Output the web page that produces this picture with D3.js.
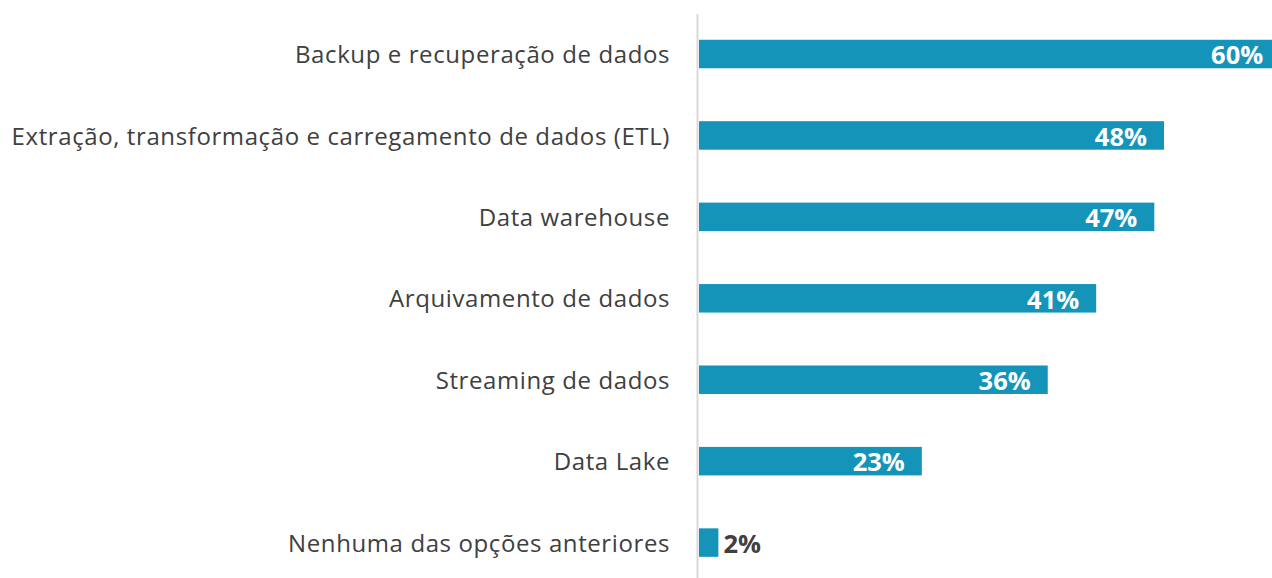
<!DOCTYPE html>
<html><head><meta charset="utf-8">
<script src="https://cdn.jsdelivr.net/npm/d3@7"></script>
<style>html,body{margin:0;padding:0;background:#fff;}svg{display:block;}</style>
</head><body>
<script>
const categories = ["Backup e recuperação de dados","Extração, transformação e carregamento de dados (ETL)","Data warehouse","Arquivamento de dados","Streaming de dados","Data Lake","Nenhuma das opções anteriores"];
const values = [60,48,47,41,36,23,2];
const valueLabels = ["60%","48%","47%","41%","36%","23%","2%"];

const W=1272,H=578;
const svg=d3.select("body").append("svg").attr("width",W).attr("height",H);
const x=d3.scaleLinear().domain([0,48]).range([699,1164]);
const y=d3.scaleBand().domain(categories).range([13.3,583.3]).paddingInner(0.65).paddingOuter(0.325);
const font="'Open Sans',sans-serif";

svg.selectAll("rect.bar").data(values).join("rect").attr("class","bar")
  .attr("x",x(0)).attr("y",(d,i)=>y(categories[i]))
  .attr("width",d=>x(d)-x(0)).attr("height",y.bandwidth()).attr("fill","#1594ba");

svg.append("line").attr("x1",697.5).attr("x2",697.5).attr("y1",14).attr("y2",578)
  .attr("stroke","#d9d9d9").attr("stroke-width",2);

svg.selectAll("text.cat").data(categories).join("text").attr("class","cat")
  .attr("x",670).attr("y",d=>y(d)+y.bandwidth()/2).attr("dy","0.38em")
  .attr("text-anchor","end").attr("font-family",font).attr("font-size",24)
  .attr("letter-spacing",0.6).attr("fill","#404040")
  .text(d=>d);

svg.selectAll("text.val").data(values).join("text").attr("class","val")
  .attr("x",d=>d<10? x(d)+5 : x(d)-17)
  .attr("y",(d,i)=>y(categories[i])+y.bandwidth()/2).attr("dy","0.4em")
  .attr("text-anchor",d=>d<10?"start":"end").attr("font-family",font).attr("font-weight","bold")
  .attr("font-size",25.5).attr("fill",d=>d<10?"#404040":"#fff")
  .text((d,i)=>valueLabels[i]);
</script>
</body></html>
